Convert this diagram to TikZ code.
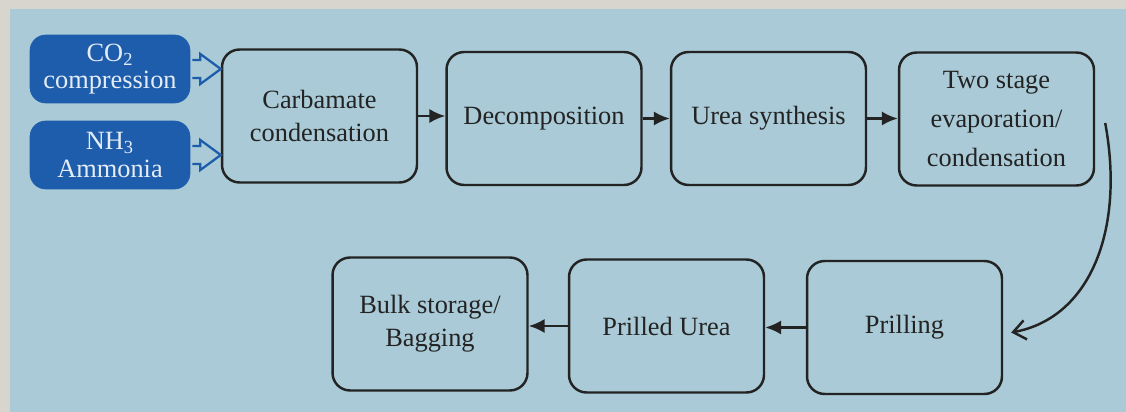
\documentclass[tikz,border=0pt]{standalone}
\usepackage{fontspec}
\setmainfont{Liberation Serif}
\usetikzlibrary{arrows.meta,calc}
\definecolor{bg}{HTML}{A9CAD6}
\definecolor{page}{HTML}{D8D5CE}
\definecolor{dkblue}{HTML}{1D5DAC}
\definecolor{ink}{HTML}{232323}
\begin{document}
\begin{tikzpicture}[x=0.02cm,y=-0.02cm,
  proc/.style={draw=ink, line width=1.4pt, rounded corners=10pt, align=center, text=ink,
    font=\fontsize{15}{19}\selectfont, minimum width=3.9cm, minimum height=2.66cm, inner sep=2pt},
  feed/.style={fill=dkblue, draw=dkblue, rounded corners=9pt, align=center, text=white!88!dkblue,
    font=\fontsize{15}{15.5}\selectfont, minimum width=3.2cm, minimum height=1.36cm, inner sep=1pt},
  flow/.style={draw=ink, line width=1.4pt, -{Latex[length=9pt,width=8pt]}},
  hollow/.style={draw=dkblue, line width=1.3pt, line join=miter}]
\useasboundingbox (0,0) rectangle (1126,412);
\fill[page] (0,0) rectangle (1126,412);
\fill[bg] (10,9) rectangle (1126,412);
% feed boxes
\node[feed] (co2) at (110,69) {CO\textsubscript{2}\\compression};
\node[feed] (nh3) at (110,155) {NH\textsubscript{3}\\Ammonia};
% process boxes
\node[proc] (carb) at (319.5,116) {Carbamate\\condensation};
\node[proc] (dec) at (544,118.5) {Decomposition};
\node[proc] (urea) at (768.5,118.5) {Urea synthesis};
\node[proc, font=\fontsize{15}{22}\selectfont] (two) at (996.5,119) {Two stage\\evaporation/\\condensation};
\node[proc] (prill) at (904.5,327.5) {Prilling};
\node[proc] (pu) at (666.5,326) {Prilled Urea};
\node[proc] (bulk) at (430,324) {Bulk storage/\\Bagging};
% hollow feed arrows
\draw[hollow] ($(co2.east)+(2,-9)$) -- ++(8,0) -- ++(0,-6) -- (co2.east -| carb.west)
  -- ($(co2.east)+(10,15)$) -- ++(0,-6) -- ++(-8,0);
\draw[hollow] ($(nh3.east)+(2,-9)$) -- ++(8,0) -- ++(0,-6) -- (nh3.east -| carb.west)
  -- ($(nh3.east)+(10,15)$) -- ++(0,-6) -- ++(-8,0);
% flow arrows
\draw[flow] (carb.east) -- (carb.east -| dec.west);
\draw[flow] (dec.east) -- (dec.east -| urea.west);
\draw[flow] (urea.east) -- (urea.east -| two.west);
\draw[flow] (prill.west) -- (prill.west -| pu.east);
\draw[flow] (pu.west) -- (pu.west -| bulk.east);
% curved connector
\coordinate (cs) at ($(two.east)+(10,4)$);
\coordinate (ce) at ($(prill.east)+(8,5)$);
\draw[ink, line width=1.4pt, -{Straight Barb[length=7pt,width=11pt]}]
  (cs) .. controls (1125,230) and (1090,318) .. (ce);
\end{tikzpicture}
\end{document}
